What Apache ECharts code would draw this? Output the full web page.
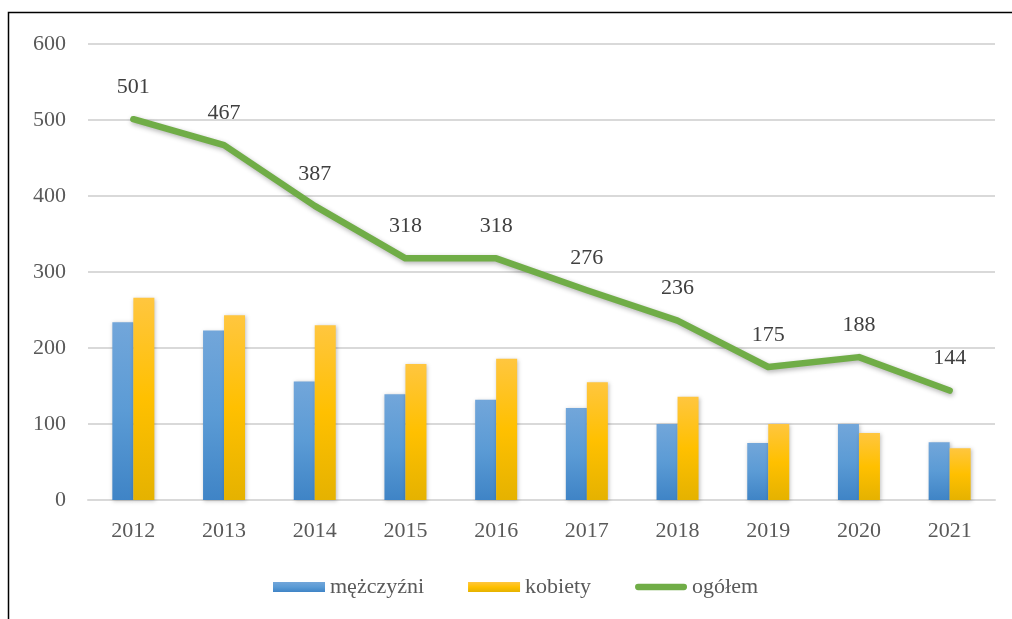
<!DOCTYPE html>
<html>
<head>
<meta charset="utf-8">
<script src="https://cdn.jsdelivr.net/npm/echarts@6/dist/echarts.min.js"></script>
<style>
  html, body { margin: 0; padding: 0; background: #fff; }
  #chart { width: 1012px; height: 619px; }
</style>
</head>
<body>
<div id="chart"></div>
<script>
// dane
const years = ['2012', '2013', '2014', '2015', '2016', '2017', '2018', '2019', '2020', '2021']
const mezczyzni = [234, 223, 156, 139, 132, 121, 100, 75, 100, 76]
const kobiety = [266, 243, 230, 179, 186, 155, 136, 100, 88, 68]
const ogolem = [501, 467, 387, 318, 318, 276, 236, 175, 188, 144]
const yTicks = [0, 100, 200, 300, 400, 500, 600]

const font = '"Liberation Serif", "DejaVu Serif", serif'
const chart = echarts.init(document.getElementById('chart'))

const blueGrad = new echarts.graphic.LinearGradient(0, 0, 0, 1, [
  { offset: 0, color: '#72a6da' },
  { offset: 0.5, color: '#5b9bd5' },
  { offset: 1, color: '#3f84c6' },
])
const yellowGrad = new echarts.graphic.LinearGradient(0, 0, 0, 1, [
  { offset: 0, color: '#ffc63f' },
  { offset: 0.5, color: '#ffc000' },
  { offset: 1, color: '#e5b200' },
])

// ikona legendy dla linii - gruba zaokrąglona kreska
const lineIcon = 'path://M3.5,0 H54.5 A3.5,3.5 0 0 1 54.5,7 H3.5 A3.5,3.5 0 0 1 3.5,0 Z'

chart.setOption({
  animation: false,
  backgroundColor: '#fff',
  graphic: [
    // ramka wykresu (widoczna tylko góra i lewa krawędź)
    {
      type: 'rect',
      shape: { x: 8.5, y: 12.5, width: 1100, height: 700 },
      style: { fill: 'none', stroke: '#000', lineWidth: 1.5 },
      silent: true,
    },
  ],
  grid: { left: 88, right: 17, top: 44, bottom: 119 },
  legend: {
    top: 571,
    left: 268,
    itemWidth: 52,
    itemHeight: 10,
    itemGap: 44,
    textStyle: { fontFamily: font, fontSize: 22, color: '#595959' },
    data: [
      { name: 'mężczyźni', icon: 'rect' },
      { name: 'kobiety', icon: 'rect' },
      { name: 'ogółem', icon: lineIcon, itemStyle: { color: '#70ad47', opacity: 1 } },
    ],
  },
  xAxis: {
    type: 'category',
    data: years,
    axisLine: { lineStyle: { color: '#d9d9d9', width: 2 } },
    axisTick: { show: false },
    axisLabel: { fontFamily: font, fontSize: 22, color: '#595959', margin: 20 },
  },
  yAxis: {
    type: 'value',
    min: yTicks[0],
    max: yTicks[yTicks.length - 1],
    interval: 100,
    axisLine: { show: false },
    axisTick: { show: false },
    axisLabel: { fontFamily: font, fontSize: 22, color: '#595959', margin: 22 },
    splitLine: { lineStyle: { color: '#d9d9d9', width: 2 } },
  },
  series: [
    {
      name: 'mężczyźni',
      type: 'bar',
      data: mezczyzni,
      barWidth: 21,
      barGap: '0%',
      itemStyle: {
        color: blueGrad,
        shadowColor: 'rgba(0,0,0,0.25)',
        shadowBlur: 4,
        shadowOffsetX: 1,
        shadowOffsetY: 1,
      },
    },
    {
      name: 'kobiety',
      type: 'bar',
      data: kobiety,
      barWidth: 21,
      barGap: '0%',
      itemStyle: {
        color: yellowGrad,
        shadowColor: 'rgba(0,0,0,0.25)',
        shadowBlur: 4,
        shadowOffsetX: 1,
        shadowOffsetY: 1,
      },
    },
    {
      name: 'ogółem',
      type: 'line',
      data: ogolem,
      symbol: 'circle',
      symbolSize: 2,
      showSymbol: true,
      itemStyle: { color: 'rgba(112,173,71,0)', borderWidth: 0 },
      lineStyle: {
        color: '#70ad47',
        width: 6.5,
        cap: 'round',
        join: 'round',
        shadowColor: 'rgba(0,0,0,0.3)',
        shadowBlur: 5,
        shadowOffsetX: 1,
        shadowOffsetY: 2,
      },
      label: {
        show: true,
        position: 'top',
        distance: 20,
        fontFamily: font,
        fontSize: 22,
        color: '#404040',
      },
      z: 5,
    },
  ],
})
</script>
</body>
</html>
